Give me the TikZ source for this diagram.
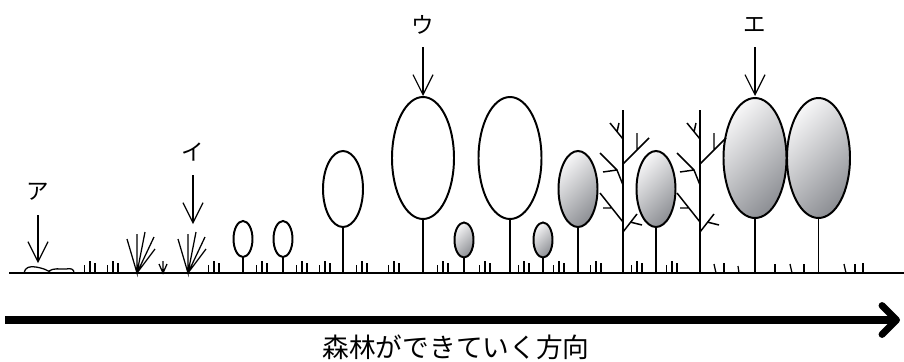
\documentclass[tikz,border=0pt]{standalone}
\usepackage{fontspec}
\newfontfamily\jpfont{Noto Sans CJK JP}
\usetikzlibrary{calc,arrows.meta}

\definecolor{leafhi}{HTML}{F5F5F6}
\definecolor{leaflo}{HTML}{8E9095}

\tikzset{
  ground/.style={line width=1.2pt},
  trunk/.style={line width=1pt},
  blade/.style={line width=0.9pt},
  crown/.style={line width=1.4pt, fill=white},
  grey crown/.style={line width=1.4pt, top color=leafhi, bottom color=leaflo, shading angle=45},
  kana/.style={font=\jpfont\fontsize{16}{16}\selectfont, inner sep=0pt},
  caption/.style={font=\jpfont\fontsize{19}{19}\selectfont, inner sep=0pt},
  pointer/.style={line width=0.85pt, -{Straight Barb[length=5mm, width=5mm]}},
  succession/.style={line width=5pt, -{Straight Barb[round, length=3.6mm, width=7.2mm]}},
  % little grass tuft on the ground
  tuft/.pic={
    \draw[blade] (-5.5,0) -- ++(0,-8) (0,0) -- ++(0,-12) (5,0) -- ++(0,-10);
  },
  % young grass clump
  fan/.pic={
    \draw[blade] (-10,-34) -- (0,0) -- (0,-39)
                 (0,0) -- (8,-41) (0,0) -- (17,-36) (0,0) -- (18,-24);
  },
  sprout/.pic={
    \draw[blade] (0,0) -- (0,-12) (-4,-9) -- (0,0) -- (4,-9);
  },
  % dead tree with bare branches
  bare tree/.pic={
    \draw[line width=1.2pt] (0,0) -- (0,-163);
    \draw[line width=1.05pt] (0,-134) -- (-13,-150) (-6,-141) -- (-4,-150)
                             (0,-109) -- (26,-135) (14,-123) -- (14,-140)
                             (0,-88) -- (-6,-103) -- (-23,-120) (-6,-103) -- (-20,-101)
                             (0,-51) -- (-23,-80) (-11,-65) -- (-20,-65)
                             (0,-41) -- (14,-59) (7,-51) -- (19,-48);
  }
}

\begin{document}
\begin{tikzpicture}[x=0.025cm, y=-0.025cm]
  \useasboundingbox (0,0) rectangle (904,362);

  % ground
  \coordinate (gl) at (9,273);
  \coordinate (gr) at (904,273);
  \draw[ground] (gl) -- (gr);

  % stones
  \draw[blade] (24,273) .. controls (25,267) and (30,266) .. (36,267)
               .. controls (42,268) and (48,270) .. (51,273);
  \draw[blade] (49,271) .. controls (53,268) and (60,269) .. (66,269)
               .. controls (71,268) and (74,269) .. (74,273);

  % grass
  \foreach \x in {90,113,214,262,302,325,362,394,443,485,524,559,596,637,672}
    \pic at (\x,273) {tuft};
  \pic at (137,273) {fan};
  \pic at (188,273) {fan};
  \pic at (163,273) {sprout};
  \foreach \x/\dx/\h in {714/2/9, 724/0/10, 738/1/7, 775/0/9, 790/2/9,
                         804/0/9, 844/2/9, 855/0/9, 863/0/10}
    \draw[blade] (\x,{273-\h}) -- ({\x+\dx},273);

  % trees: x / centre y / x radius / y radius / style
  \foreach \x/\cy/\rx/\ry/\kind in {243/239/9.5/18/crown, 283/239/9.5/18/crown,
      343/189/20/38/crown, 423/158/31/61/crown, 464/240/9.5/17.5/grey crown,
      510/158/31.5/61/crown, 543/240/9.5/17.5/grey crown,
      578/189/19.5/38/grey crown, 656/189/19.5/38/grey crown,
      755/158/31.5/60/grey crown, 818.5/158/31.5/60/grey crown} {
    \draw[trunk] (\x,273) -- (\x,{\cy+\ry});
    \draw[\kind] (\x,\cy) ellipse [x radius=\rx, y radius=\ry];
  }
  \pic at (623,273) {bare tree};
  \pic at (700,273) {bare tree};

  % stages
  \node[kana] (labA) at (38,192) {ア};
  \node[kana] (labI) at (193,152) {イ};
  \node[kana] (labU) at (423,25) {ウ};
  \node[kana] (labE) at (755,25) {エ};
  \coordinate (tipA) at (38,263);
  \coordinate (tipI) at (193,224);
  \coordinate (tipU) at (423,96);
  \coordinate (tipE) at (755,96);
  \draw[pointer] ($(labA)+(0,23)$) -- (tipA);
  \draw[pointer] ($(labI)+(0,23)$) -- (tipI);
  \draw[pointer] ($(labU)+(0,22)$) -- (tipU);
  \draw[pointer] ($(labE)+(0,22)$) -- (tipE);

  % direction of succession
  \coordinate (forestL) at (5,320);
  \coordinate (forestR) at (900,320);
  \draw[succession] (forestL) -- (forestR);
  \node[caption] (dirlabel) at (456,347) {森林ができていく方向};
\end{tikzpicture}
\end{document}
